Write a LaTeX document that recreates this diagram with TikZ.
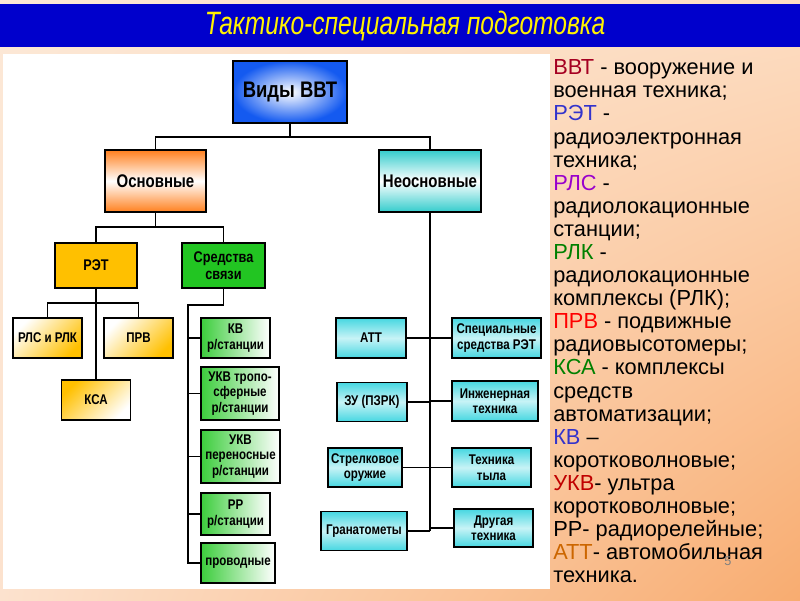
\documentclass[tikz,border=0pt]{standalone}
\usepackage{fontspec}
\usetikzlibrary{shadings}
\setmainfont{Liberation Sans}
\newfontfamily\narrowfont[FakeStretch=0.82]{Liberation Sans}
\newfontfamily\titlefont[FakeStretch=0.76]{Liberation Sans}
\newdimen\unitpx
\unitpx=0.025cm
\definecolor{bgA}{RGB}{252,232,214}
\definecolor{bgB}{RGB}{253,222,196}
\definecolor{bgC}{RGB}{252,226,206}
\definecolor{bgD}{RGB}{248,172,112}
\definecolor{titleblue}{RGB}{0,0,204}
\definecolor{vidyblue}{RGB}{20,90,240}
\definecolor{osnorange}{RGB}{255,128,30}
\definecolor{neocyan}{RGB}{51,204,204}
\definecolor{cyanbox}{RGB}{70,215,225}
\definecolor{retgold}{RGB}{255,192,0}
\definecolor{sviazgreen}{RGB}{34,197,34}
\definecolor{greenbox}{RGB}{60,205,60}
\definecolor{cVVT}{RGB}{165,0,33}
\definecolor{cRET}{RGB}{51,51,204}
\definecolor{cRLS}{RGB}{153,0,204}
\definecolor{cRLK}{RGB}{0,128,0}
\definecolor{cPRV}{RGB}{255,0,0}
\definecolor{cUKV}{RGB}{192,0,0}
\definecolor{cATT}{RGB}{204,102,0}
\begin{document}
\begin{tikzpicture}[x=0.025cm, y=-0.025cm,
    box/.style={draw, rectangle, line width=0.9pt, align=center, inner sep=1pt, font=\narrowfont\bfseries\fontsize{10}{11}\selectfont},
    sz/.style 2 args={minimum width=#1\unitpx, minimum height=#2\unitpx},
    topbox/.style={box, inner color=white, outer color=vidyblue, font=\narrowfont\bfseries\fontsize{16}{18}\selectfont},
    mainbox/.style={box, top color=#1, bottom color=#1, middle color=white, font=\narrowfont\bfseries\fontsize{13}{15}\selectfont},
    subbox/.style={box, fill=#1, font=\narrowfont\bfseries\fontsize{11}{12}\selectfont},
    goldbox/.style={box, left color=white, right color=retgold, shading angle=45},
    goldbox2/.style={box, left color=retgold, right color=white, shading angle=45},
    greenleaf/.style={box, left color=greenbox, right color=white},
    cyanleaf/.style={box, top color=cyanbox, bottom color=cyanbox, middle color=cyanbox!30},
    conn/.style={line width=0.8pt},
    title/.style={text=yellow, font=\titlefont\itshape\fontsize{23}{26}\selectfont},
    legend/.style={align=left, inner sep=0pt, font=\fontsize{15.5}{16.42}\selectfont}
]
\useasboundingbox (0,0) rectangle (800,600);
\shade[upper left=bgA, upper right=bgB, lower left=bgC, lower right=bgD] (0,0) rectangle (800,600);
\fill[titleblue] (0,4) rectangle (800,47);
\node[title] (head) at (405,26) {Тактико-специальная подготовка};
\fill[white] (3,54) rectangle (550,589);

\node[topbox, sz={114}{62}] (vidy) at (290,92) {Виды ВВТ};
\node[mainbox=osnorange, sz={101}{62}] (osn) at (155.5,181) {Основные};
\node[mainbox=neocyan, sz={102}{62}] (neosn) at (430,181) {Неосновные};
\node[subbox=retgold, sz={82}{45}] (ret) at (96,265.5) {РЭТ};
\node[subbox=sviazgreen, sz={83}{45}] (sviaz) at (223.5,265.5) {Средства\\связи};

\node[goldbox, sz={69}{40}] (rls) at (47.5,338) {РЛС и РЛК};
\node[goldbox, sz={69}{40}] (prv) at (138.5,338) {ПРВ};
\node[goldbox2, sz={69}{40}] (ksa) at (96,400) {КСА};

\node[greenleaf, sz={69}{40}] (kv) at (235.5,338) {КВ\\р/станции};
\node[greenleaf, sz={78}{53}] (ukvt) at (240,393.5) {УКВ тропо-\\сферные\\р/станции};
\node[greenleaf, sz={79}{53}] (ukvp) at (240.5,456.5) {УКВ\\переносные\\р/станции};
\node[greenleaf, sz={69}{42}] (rr) at (235.5,514) {РР\\р/станции};
\node[greenleaf, sz={74}{40}] (prov) at (238,563) {проводные};

\node[cyanleaf, sz={70}{40}] (att) at (371,338) {АТТ};
\node[cyanleaf, sz={89}{40}] (spec) at (496.5,338) {Специальные\\средства РЭТ};
\node[cyanleaf, sz={70}{39}] (zu) at (372,402) {ЗУ (ПЗРК)};
\node[cyanleaf, sz={86}{40}] (inzh) at (495,401) {Инженерная\\техника};
\node[cyanleaf, sz={74}{39}] (strel) at (365,467.5) {Стрелковое\\оружие};
\node[cyanleaf, sz={79}{39}] (tyl) at (491.5,467.5) {Техника\\тыла};
\node[cyanleaf, sz={86}{39}] (gran) at (364,531) {Гранатометы};
\node[cyanleaf, sz={79}{38}] (drug) at (493.5,528) {Другая\\техника};

\coordinate (j1) at (290,137);
\coordinate (j2) at (155.5,227);
\coordinate (j3) at (96,303);
\coordinate (j4) at (188,305);

\draw[conn] (vidy.south) -- (j1);
\draw[conn] (osn.north) |- (j1) -| (neosn.north);
\draw[conn] (osn.south) -- (j2);
\draw[conn] (ret.north) |- (j2) -| (sviaz.north);
\draw[conn] (ret.south) -- (ksa.north);
\draw[conn] (rls.north) |- (j3) -| (prv.north);
\draw[conn] (sviaz.south) |- (j4) -- (j4 |- prov) -- (prov.west);
\foreach \n in {kv,ukvt,ukvp,rr}
    \draw[conn] (\n.west) -- (\n -| j4);
\draw[conn] (neosn.south) -- (neosn |- gran);
\foreach \l/\r in {att/spec,zu/inzh,strel/tyl,gran/drug} {
    \draw[conn] (\l.east) -- (\l -| neosn);
    \draw[conn] (\r.west) -- (\r -| neosn);
}

\node[legend, anchor=north west] (legend) at (553,59.5) {%
{\color{cVVT}ВВТ} - вооружение и\\
военная техника;\\
{\color{cRET}РЭТ} -\\
радиоэлектронная\\
техника;\\
{\color{cRLS}РЛС} -\\
радиолокационные\\
станции;\\
{\color{cRLK}РЛК} -\\
радиолокационные\\
комплексы (РЛК);\\
{\color{cPRV}ПРВ} - подвижные\\
радиовысотомеры;\\
{\color{cRLK}КСА} - комплексы\\
средств\\
автоматизации;\\
{\color{cRET}КВ} --\\
коротковолновые;\\
{\color{cUKV}УКВ}- ультра\\
коротковолновые;\\
РР- радиорелейные;\\
{\color{cATT}АТТ}- автомобильная\\
техника.};
\node[text=gray, font=\fontsize{9}{9}\selectfont] (pnum) at (728,561) {5};
\end{tikzpicture}
\end{document}
